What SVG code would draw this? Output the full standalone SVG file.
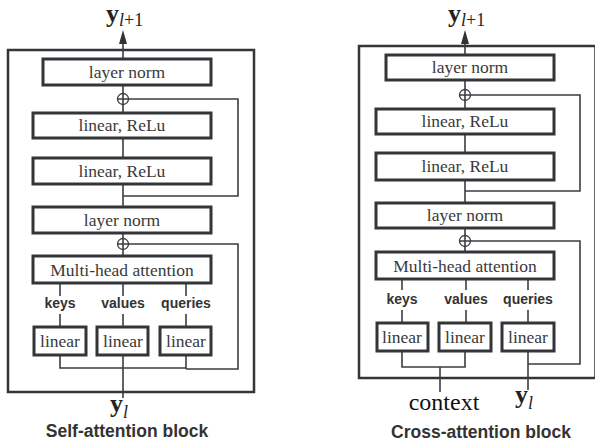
<svg xmlns="http://www.w3.org/2000/svg" width="595" height="441" viewBox="0 0 595 441">
<defs>
<style>
.outer{fill:none;stroke:#333539;stroke-width:2.5}
.box{fill:#fff;stroke:#333539;stroke-width:3}
.t{font-family:"Liberation Serif",serif;font-size:17.5px;fill:#3a3a3a;text-anchor:middle}
.lb{font-family:"Liberation Sans",sans-serif;font-weight:bold;font-size:14px;fill:#333;text-anchor:middle}
.cap{font-family:"Liberation Sans",sans-serif;font-weight:bold;font-size:17.5px;fill:#333;text-anchor:middle}
.w{fill:none;stroke:#3a3c40;stroke-width:1.6}
.sum{fill:#fff;stroke:#3a3c40;stroke-width:1.3}
.yb{font-family:"Liberation Serif",serif;font-weight:bold;font-size:26px;fill:#222}
.sub{font-family:"Liberation Serif",serif;font-size:18px;fill:#222}
.ctx{font-family:"Liberation Serif",serif;font-size:24px;fill:#111;text-anchor:middle}
</style>
</defs>

<!-- outer frames -->
<rect class="outer" x="8" y="50" width="246" height="342"/>
<rect class="outer" x="359" y="46" width="236.5" height="332"/>

<g id="connectors">
<!-- left block -->
<line class="w" x1="123" y1="59" x2="123" y2="44"/>
<path d="M123 30 L127 44 L119 44 Z" fill="#333"/>
<line class="w" x1="123" y1="85" x2="123" y2="113"/>
<line class="w" x1="123" y1="138" x2="123" y2="158"/>
<line class="w" x1="123" y1="184" x2="123" y2="207"/>
<polyline class="w" points="123,196 238,196 238,99 128,99"/>
<line class="w" x1="123" y1="233" x2="123" y2="256"/>
<polyline class="w" points="128,244 238,244 238,369 186,369"/>
<line class="w" x1="60" y1="283" x2="60" y2="296"/>
<line class="w" x1="60" y1="314" x2="60" y2="327"/>
<line class="w" x1="123" y1="283" x2="123" y2="296"/>
<line class="w" x1="123" y1="314" x2="123" y2="327"/>
<line class="w" x1="186" y1="283" x2="186" y2="296"/>
<line class="w" x1="186" y1="314" x2="186" y2="327"/>
<polyline class="w" points="60,355 60,368 186,368"/>
<line class="w" x1="186" y1="355" x2="186" y2="369"/>
<line class="w" x1="123" y1="355" x2="123" y2="398"/>
<!-- right block -->
<line class="w" x1="465" y1="55" x2="465" y2="44"/>
<path d="M465 30 L469 44 L461 44 Z" fill="#333"/>
<line class="w" x1="465" y1="80" x2="465" y2="109"/>
<line class="w" x1="465" y1="134" x2="465" y2="153"/>
<line class="w" x1="465" y1="180" x2="465" y2="203"/>
<polyline class="w" points="465,191 580,191 580,95 470,95"/>
<line class="w" x1="465" y1="228" x2="465" y2="252"/>
<polyline class="w" points="470,241 580,241 580,364 528,364"/>
<line class="w" x1="402" y1="279" x2="402" y2="290"/>
<line class="w" x1="402" y1="310" x2="402" y2="323"/>
<line class="w" x1="466" y1="279" x2="466" y2="290"/>
<line class="w" x1="466" y1="310" x2="466" y2="323"/>
<line class="w" x1="528" y1="279" x2="528" y2="290"/>
<line class="w" x1="528" y1="310" x2="528" y2="323"/>
<polyline class="w" points="402,351 402,367 465,367 465,351"/>
<line class="w" x1="440" y1="367" x2="440" y2="392"/>
<line class="w" x1="528" y1="351" x2="528" y2="390"/>
</g>

<!-- left block nodes -->
<g id="L-ln1"><rect class="box" x="43" y="59" width="168" height="26"/><text class="t" x="127" y="78">layer norm</text></g>
<g id="L-sum1"><circle class="sum" cx="123" cy="99" r="5.5"/><path class="w" d="M117.5 99 H128.5 M123 93.5 V104.5" stroke-width="1.1"/></g>
<g id="L-lr1"><rect class="box" x="33" y="113" width="178" height="25"/><text class="t" x="122" y="131">linear, ReLu</text></g>
<g id="L-lr2"><rect class="box" x="33" y="158" width="178" height="26"/><text class="t" x="122" y="177">linear, ReLu</text></g>
<g id="L-ln2"><rect class="box" x="33" y="207" width="178" height="26"/><text class="t" x="122" y="226">layer norm</text></g>
<g id="L-sum2"><circle class="sum" cx="123" cy="244" r="5.5"/><path class="w" d="M117.5 244 H128.5 M123 238.5 V249.5" stroke-width="1.1"/></g>
<g id="L-mha"><rect class="box" x="33" y="256" width="178" height="27"/><text class="t" x="122" y="276">Multi-head attention</text></g>
<g id="L-keys"><text class="lb" x="60" y="308">keys</text></g>
<g id="L-values"><text class="lb" x="123" y="308">values</text></g>
<g id="L-queries"><text class="lb" x="186" y="308">queries</text></g>
<g id="L-lin1"><rect class="box" x="34" y="327" width="52" height="28"/><text class="t" x="60" y="347">linear</text></g>
<g id="L-lin2"><rect class="box" x="97" y="327" width="51" height="28"/><text class="t" x="123" y="347">linear</text></g>
<g id="L-lin3"><rect class="box" x="160" y="327" width="51" height="28"/><text class="t" x="186" y="347">linear</text></g>
<g id="L-out"><text x="106" y="22"><tspan class="yb">y</tspan><tspan class="sub" font-style="italic" dy="4">l</tspan><tspan class="sub">+1</tspan></text></g>
<g id="L-in"><text x="110" y="412"><tspan class="yb">y</tspan><tspan class="sub" font-style="italic" dy="6">l</tspan></text></g>
<text class="cap" x="127" y="437">Self-attention block</text>

<!-- right block nodes -->
<g id="R-ln1"><rect class="box" x="386" y="55" width="168" height="25"/><text class="t" x="470" y="73">layer norm</text></g>
<g id="R-sum1"><circle class="sum" cx="465" cy="95" r="5.5"/><path class="w" d="M459.5 95 H470.5 M465 89.5 V100.5" stroke-width="1.1"/></g>
<g id="R-lr1"><rect class="box" x="376" y="109" width="178" height="25"/><text class="t" x="465" y="127">linear, ReLu</text></g>
<g id="R-lr2"><rect class="box" x="376" y="153" width="178" height="27"/><text class="t" x="465" y="172">linear, ReLu</text></g>
<g id="R-ln2"><rect class="box" x="376" y="203" width="178" height="25"/><text class="t" x="465" y="221">layer norm</text></g>
<g id="R-sum2"><circle class="sum" cx="465" cy="241" r="5.5"/><path class="w" d="M459.5 241 H470.5 M465 235.5 V246.5" stroke-width="1.1"/></g>
<g id="R-mha"><rect class="box" x="376" y="252" width="178" height="27"/><text class="t" x="465" y="272">Multi-head attention</text></g>
<g id="R-keys"><text class="lb" x="402" y="304">keys</text></g>
<g id="R-values"><text class="lb" x="466" y="304">values</text></g>
<g id="R-queries"><text class="lb" x="528" y="304">queries</text></g>
<g id="R-lin1"><rect class="box" x="377" y="323" width="51" height="28"/><text class="t" x="402" y="343">linear</text></g>
<g id="R-lin2"><rect class="box" x="439" y="323" width="52" height="28"/><text class="t" x="465" y="343">linear</text></g>
<g id="R-lin3"><rect class="box" x="502" y="323" width="52" height="28"/><text class="t" x="528" y="343">linear</text></g>
<g id="R-out"><text x="448" y="22"><tspan class="yb">y</tspan><tspan class="sub" font-style="italic" dy="4">l</tspan><tspan class="sub">+1</tspan></text></g>
<g id="R-ctx"><text class="ctx" x="444" y="410">context</text></g>
<g id="R-in"><text x="515" y="403"><tspan class="yb">y</tspan><tspan class="sub" font-style="italic" dy="6">l</tspan></text></g>
<text class="cap" x="481" y="438">Cross-attention block</text>
</svg>
